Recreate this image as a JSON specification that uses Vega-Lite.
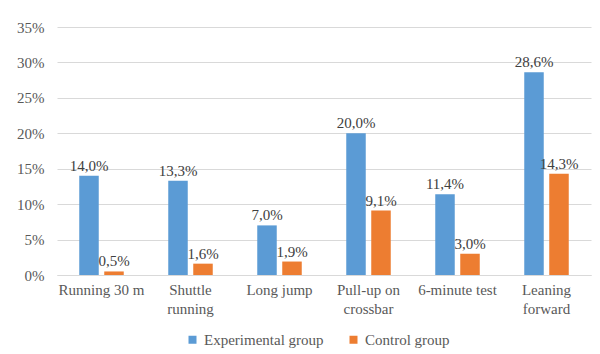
{
  "$schema": "https://vega.github.io/schema/vega-lite/v6.json",
  "width": 534,
  "height": 248,
  "autosize": "none",
  "padding": {"left": 57, "top": 27, "right": 9, "bottom": 79},
  "background": "white",
  "data": {
    "values": [
      {"test": "Running 30 m", "group": "Experimental group", "value": 0.140},
      {"test": "Running 30 m", "group": "Control group", "value": 0.005},
      {"test": "Shuttle running", "group": "Experimental group", "value": 0.133},
      {"test": "Shuttle running", "group": "Control group", "value": 0.016},
      {"test": "Long jump", "group": "Experimental group", "value": 0.070},
      {"test": "Long jump", "group": "Control group", "value": 0.019},
      {"test": "Pull-up on crossbar", "group": "Experimental group", "value": 0.200},
      {"test": "Pull-up on crossbar", "group": "Control group", "value": 0.091},
      {"test": "6-minute test", "group": "Experimental group", "value": 0.114},
      {"test": "6-minute test", "group": "Control group", "value": 0.030},
      {"test": "Leaning forward", "group": "Experimental group", "value": 0.286},
      {"test": "Leaning forward", "group": "Control group", "value": 0.143}
    ]
  },
  "encoding": {
    "x": {
      "field": "test",
      "type": "nominal",
      "sort": null,
      "title": null,
      "scale": {"paddingInner": 0.5, "paddingOuter": 0.25},
      "axis": {
        "labelAngle": 0,
        "ticks": false,
        "domain": true,
        "domainColor": "#D9D9D9",
        "labelPadding": 7,
        "labelLineHeight": 19,
        "labelBaseline": "top",
        "labelExpr": "datum.label == 'Shuttle running' ? ['Shuttle', 'running'] : datum.label == 'Pull-up on crossbar' ? ['Pull-up on', 'crossbar'] : datum.label == 'Leaning forward' ? ['Leaning', 'forward'] : datum.label"
      }
    },
    "xOffset": {
      "field": "group",
      "type": "nominal",
      "sort": ["Experimental group", "Control group"],
      "scale": {"paddingInner": 0.22, "paddingOuter": 0}
    },
    "y": {
      "field": "value",
      "type": "quantitative",
      "title": null,
      "scale": {"domain": [0, 0.35], "nice": false},
      "axis": {
        "format": ".0%",
        "values": [0, 0.05, 0.1, 0.15, 0.2, 0.25, 0.3, 0.35],
        "domain": false,
        "ticks": false,
        "labelPadding": 13,
        "gridColor": "#D9D9D9",
        "gridWidth": 1
      }
    }
  },
  "layer": [
    {
      "mark": {"type": "bar"},
      "encoding": {
        "color": {
          "field": "group",
          "type": "nominal",
          "sort": ["Experimental group", "Control group"],
          "scale": {"domain": ["Experimental group", "Control group"], "range": ["#5B9BD5", "#ED7D31"]},
          "legend": {
            "title": null,
            "orient": "none",
            "direction": "horizontal",
            "legendX": 128,
            "legendY": 305,
            "symbolType": "square",
            "symbolSize": 64,
            "symbolStrokeWidth": 0,
            "labelOffset": 4,
            "columnPadding": 22
          }
        }
      }
    },
    {
      "mark": {"type": "text", "baseline": "bottom", "dy": -2, "color": "#404040", "fontSize": 15, "font": "Times New Roman"},
      "encoding": {
        "text": {"field": "value", "type": "quantitative", "format": ".1%"}
      }
    }
  ],
  "config": {
    "locale": {"number": {"decimal": ",", "thousands": " ", "grouping": [3], "currency": ["", ""]}},
    "view": {"stroke": null},
    "font": "Times New Roman",
    "axis": {"labelFont": "Times New Roman", "labelFontSize": 15, "labelColor": "#595959"},
    "legend": {"labelFont": "Times New Roman", "labelFontSize": 15, "labelColor": "#595959"}
  }
}
